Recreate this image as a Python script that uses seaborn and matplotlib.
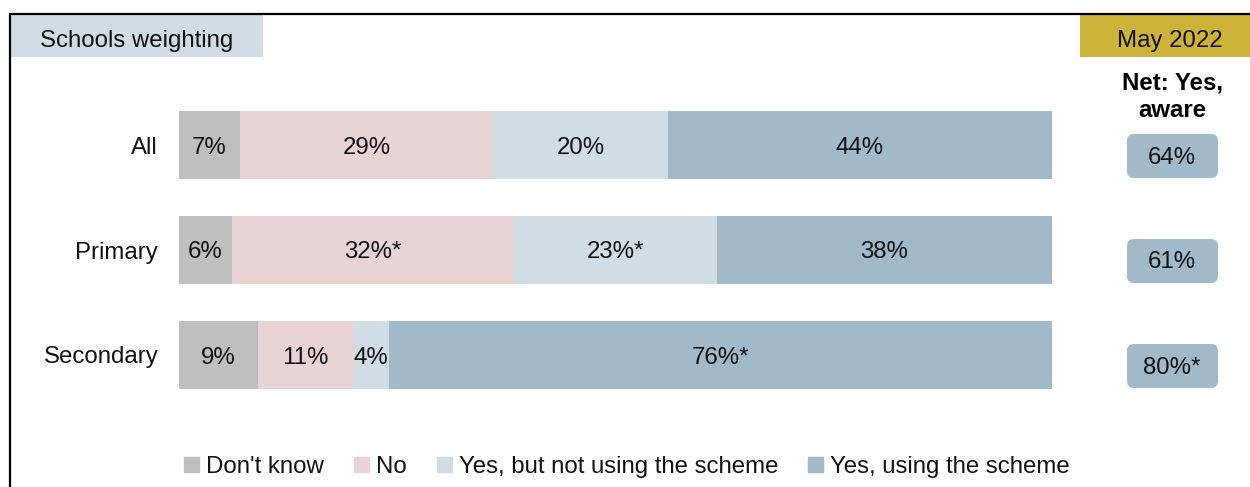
import matplotlib
matplotlib.use("Agg")
import matplotlib.pyplot as plt
import seaborn as sns
import pandas as pd
import numpy as np
from matplotlib.patches import FancyBboxPatch, Rectangle
from matplotlib.lines import Line2D

# ---- data ----
groups = ["All", "Primary", "Secondary"]
series = ["Don't know", "No", "Yes, but not using the scheme", "Yes, using the scheme"]
dont_know = [7, 6, 9]
no = [29, 32, 11]
yes_not_using = [20, 23, 4]
yes_using = [44, 38, 76]
labels_dont_know = ["7%", "6%", "9%"]
labels_no = ["29%", "32%*", "11%"]
labels_yes_not_using = ["20%", "23%*", "4%"]
labels_yes_using = ["44%", "38%", "76%*"]
net_aware = ["64%", "61%", "80%*"]
header_left = "Schools weighting"
header_right = "May 2022"
net_title = "Net: Yes,\naware"

colors = ["#bfbfbf", "#e8d3d5", "#d0dde5", "#a2b9c9"]

sns.set_theme(style="white")
plt.rcParams["font.family"] = ["Liberation Sans", "DejaVu Sans"]
FS = 17.3
TXT = "#111111"

vals = np.array([dont_know, no, yes_not_using, yes_using], dtype=float)
shares = vals / vals.sum(axis=0) * 100  # each row spans the full bar
cum = np.cumsum(shares, axis=0)
labels = [labels_dont_know, labels_no, labels_yes_not_using, labels_yes_using]

W, H = 1250, 487
fig = plt.figure(figsize=(W / 100, H / 100), dpi=100)

# main bar axes: 0..100 spans x=179..1052 px
ax = fig.add_axes([179 / W, 1 - 407.5 / H, 873 / W, 315 / H])
for i in range(3, -1, -1):
    df = pd.DataFrame({"group": groups, "value": cum[i]})
    sns.barplot(data=df, x="value", y="group", orient="h", color=colors[i],
                saturation=1, width=0.648, ax=ax, order=groups, linewidth=0,
                edgecolor="none")
ax.set_xlim(0, 100)
ax.set_ylim(2.5, -0.5)
ax.set_xlabel("")
ax.set_ylabel("")
ax.set_xticks([])
ax.tick_params(axis="y", length=0, pad=15, labelsize=FS, labelcolor=TXT)
for s in ax.spines.values():
    s.set_visible(False)
for i in range(4):
    starts = cum[i] - shares[i]
    for j in range(3):
        ax.text(starts[j] + shares[i][j] / 2, j, labels[i][j], ha="center",
                va="center_baseline", fontsize=FS, color=TXT)

# overlay in pixel coordinates for frame, headers, net boxes
ov = fig.add_axes([0, 0, 1, 1], zorder=-1)
ov.set_xlim(0, W)
ov.set_ylim(H, 0)
ov.axis("off")
ov.add_patch(Rectangle((10, 15), 253, 42, color="#d0dde5", lw=0))
ov.text(40, 38, header_left, ha="left", va="center_baseline", fontsize=FS, color=TXT)
ov.add_patch(Rectangle((1080, 15), 170, 42, color="#cdb33a", lw=0))
ov.text(1170, 38, header_right, ha="center", va="center_baseline", fontsize=FS, color=TXT)
ov.add_line(Line2D([10, 10], [14, H], color="black", lw=1.6))
ov.add_line(Line2D([10, W], [14, 14], color="black", lw=1.6))

ov2 = fig.add_axes([0, 0, 1, 1], zorder=3)
ov2.set_xlim(0, W)
ov2.set_ylim(H, 0)
ov2.axis("off")
ov2.text(1172, 97, net_title, ha="center", va="center", fontsize=FS,
         fontweight="bold", color="black", linespacing=1.25)
for j, txt in enumerate(net_aware):
    cy = 156 + 105 * j
    ov2.add_patch(FancyBboxPatch((1131, cy - 18), 83, 36,
                                 boxstyle="round,pad=4,rounding_size=7",
                                 facecolor="#a2b9c9", edgecolor="none"))
    ov2.text(1172, cy - 1, txt, ha="center", va="center_baseline", fontsize=FS, color=TXT)

handles = [Rectangle((0, 0), 1, 1, color=c) for c in colors]
fig.legend(handles, series, loc="center", bbox_to_anchor=(627 / W, 1 - 467 / H),
           ncol=4, frameon=False, fontsize=FS, handlelength=0.62, handleheight=0.62,
           handletextpad=0.3, columnspacing=1.25, borderaxespad=0,
           labelcolor=TXT)

fig.savefig("out.png", dpi=100)
